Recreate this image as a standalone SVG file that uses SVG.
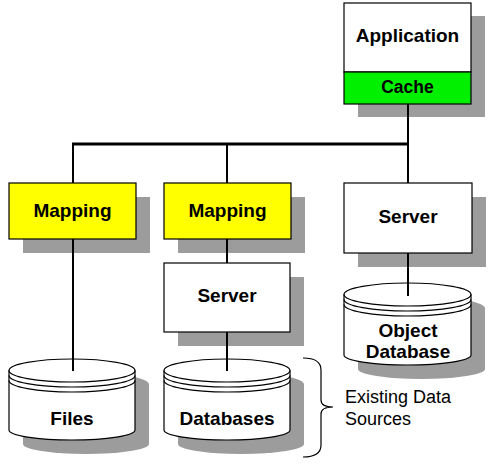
<svg xmlns="http://www.w3.org/2000/svg" width="493" height="464" viewBox="0 0 493 464">
<style>
.box{stroke:#000;stroke-width:1.2}
.sh{fill:#9c9c9c;stroke:none}
.lbl{font-family:"Liberation Sans",Arial,sans-serif;font-weight:bold;font-size:19px;fill:#000;text-anchor:middle}
.note{font-family:"Liberation Sans",Arial,sans-serif;font-size:18px;fill:#000}
.cyl{fill:#fff;stroke:#000;stroke-width:1.2}
.rim{fill:none;stroke:#000;stroke-width:1.2}
.conn{stroke:#000;fill:none}
</style>
<rect width="493" height="464" fill="#fff"/>

<g id="application">
  <rect class="sh" x="358" y="16" width="127" height="101"/>
  <rect class="box" x="344" y="3" width="127" height="69" fill="#fff"/>
  <text class="lbl" x="407.5" y="42" font-size="18.5">Application</text>
</g>
<g id="cache">
  <rect class="box" x="344" y="72" width="127" height="32" fill="#00f000"/>
  <text class="lbl" x="407.5" y="93" style="font-size:17.5px">Cache</text>
</g>

<g id="mapping1">
  <rect class="sh" x="23" y="197" width="127" height="56"/>
  <rect class="box" x="9" y="183" width="127" height="56" fill="#ffff00"/>
  <text class="lbl" x="72.5" y="217">Mapping</text>
</g>
<g id="mapping2">
  <rect class="sh" x="178" y="197" width="127" height="56"/>
  <rect class="box" x="164" y="183" width="127" height="56" fill="#ffff00"/>
  <text class="lbl" x="227.5" y="217">Mapping</text>
</g>
<g id="server-right">
  <rect class="sh" x="358" y="197" width="128" height="70"/>
  <rect class="box" x="344" y="183" width="128" height="70" fill="#fff"/>
  <text class="lbl" x="408" y="223">Server</text>
</g>
<g id="server-mid">
  <rect class="sh" x="178" y="277" width="126" height="69"/>
  <rect class="box" x="164" y="263" width="126" height="69" fill="#fff"/>
  <text class="lbl" x="227" y="302">Server</text>
</g>

<g id="files">
  <path class="sh" d="M23,384.5 A63,11.5 0 0 1 149,384.5 L149,444 A63,10 0 0 1 23,444 Z"/>
  <path class="cyl" d="M9,370.5 A63,11.5 0 0 1 135,370.5 L135,430 A63,10 0 0 1 9,430 Z"/>
  <path class="rim" d="M9,370.5 A63,11.5 0 0 0 135,370.5 M9,375.5 A63,11.5 0 0 0 135,375.5 M9,380.5 A63,11.5 0 0 0 135,380.5"/>
  <text class="lbl" x="72" y="425">Files</text>
</g>
<g id="databases">
  <path class="sh" d="M178,384.5 A63,11.5 0 0 1 304,384.5 L304,444 A63,10 0 0 1 178,444 Z"/>
  <path class="cyl" d="M164,370.5 A63,11.5 0 0 1 290,370.5 L290,430 A63,10 0 0 1 164,430 Z"/>
  <path class="rim" d="M164,370.5 A63,11.5 0 0 0 290,370.5 M164,375.5 A63,11.5 0 0 0 290,375.5 M164,380.5 A63,11.5 0 0 0 290,380.5"/>
  <text class="lbl" x="227" y="425">Databases</text>
</g>
<g id="object-database">
  <path class="sh" d="M358,308.5 A63.5,11.5 0 0 1 485,308.5 L485,369 A63.5,10 0 0 1 358,369 Z"/>
  <path class="cyl" d="M344,294.5 A63.5,11.5 0 0 1 471,294.5 L471,355 A63.5,10 0 0 1 344,355 Z"/>
  <path class="rim" d="M344,294.5 A63.5,11.5 0 0 0 471,294.5 M344,299.5 A63.5,11.5 0 0 0 471,299.5 M344,304.5 A63.5,11.5 0 0 0 471,304.5"/>
  <text class="lbl" x="408" y="337">Object</text>
  <text class="lbl" x="408" y="358">Database</text>
</g>

<g id="existing-data-sources">
  <path class="conn" stroke-width="1.2" d="M303,358 Q321,358 321,370 L321,400 Q321,407 333,407 Q321,407 321,414 L321,445 Q321,457 303,457"/>
  <text class="note" x="345" y="403">Existing Data</text>
  <text class="note" x="345" y="425">Sources</text>
</g>

<g id="connectors">
  <line class="conn" stroke-width="3" x1="72" y1="144" x2="409" y2="144"/>
  <line class="conn" stroke-width="2" x1="408" y1="104" x2="408" y2="183"/>
  <line class="conn" stroke-width="2" x1="73" y1="144" x2="73" y2="183"/>
  <line class="conn" stroke-width="2" x1="227" y1="144" x2="227" y2="183"/>
  <line class="conn" stroke-width="2" x1="73" y1="239" x2="73" y2="371"/>
  <line class="conn" stroke-width="2" x1="227" y1="239" x2="227" y2="263"/>
  <line class="conn" stroke-width="2" x1="227" y1="332" x2="227" y2="371"/>
  <line class="conn" stroke-width="2" x1="408" y1="253" x2="408" y2="296"/>
</g>
</svg>
